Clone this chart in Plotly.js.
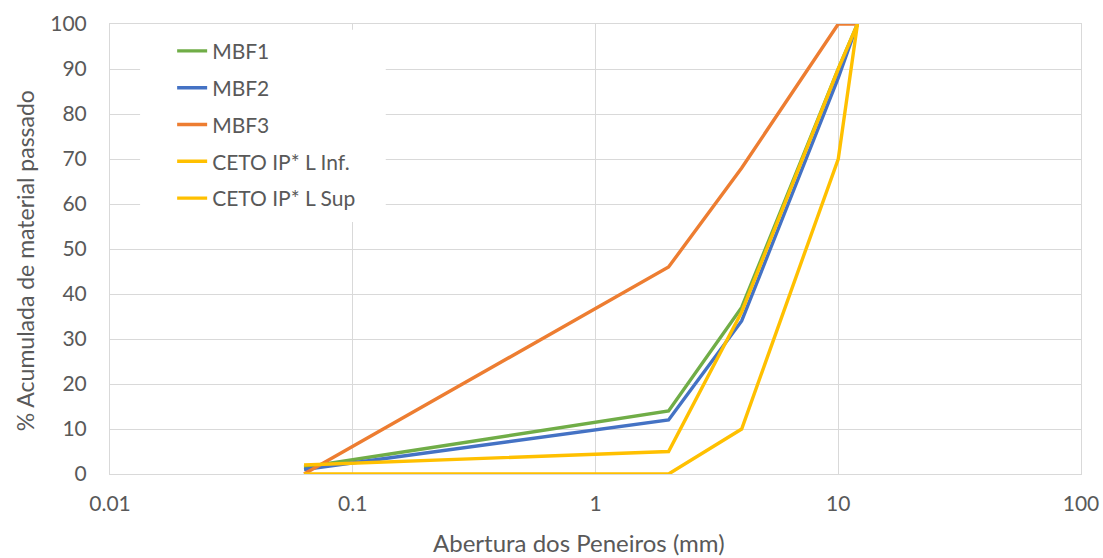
<!DOCTYPE html>
<html>
<head>
<meta charset="utf-8">
<script src="https://cdn.plot.ly/plotly-3.0.1.min.js"></script>
<style>html,body{margin:0;padding:0;background:#fff;}#chart{width:1103px;height:558px;}</style>
</head>
<body>
<div id="chart"></div>
<script>
const sieves = [0.063, 2, 4, 10, 12];
const mbf1 = [1.5, 14, 37, 90, 100];
const mbf2 = [1, 12, 34, 88, 100];
const mbf3 = [0, 46, 68, 100, 100];
const cetoInf = [0, 0, 10, 70, 100];
const cetoSup = [2, 5, 36, 90, 100];
const seriesNames = ['MBF1', 'MBF2', 'MBF3', 'CETO IP* L Inf.', 'CETO IP* L Sup'];
const seriesColors = ['#70AD47', '#4472C4', '#ED7D31', '#FFC000', '#FFC000'];
const seriesValues = [mbf1, mbf2, mbf3, cetoInf, cetoSup];
const xTickVals = [0.01, 0.1, 1, 10, 100];
const xTickText = ['0.01', '0.1', '1', '10', '100'];
const xTitle = 'Abertura dos Peneiros (mm)';
const yTitle = '% Acumulada de material passado';

const FONT = 'Lato, "Open Sans", sans-serif';
const GREY = '#595959';

const traces = seriesValues.map((v, i) => ({
  x: sieves, y: v, type: 'scatter', mode: 'lines', name: seriesNames[i],
  legendgroup: 'g' + i,
  line: {color: seriesColors[i], width: 3.4}
}));

const layout = {
  width: 1103, height: 558,
  margin: {l: 110, r: 22, t: 24, b: 84},
  paper_bgcolor: '#fff', plot_bgcolor: '#fff',
  font: {family: FONT, color: GREY, size: 21},
  showlegend: true,
  legend: {x: 0.064, y: 0.985, xanchor: 'left', yanchor: 'top', bgcolor: '#fff',
    font: {family: FONT, size: 21, color: GREY}, tracegroupgap: 6.5, traceorder: 'grouped'},
  xaxis: {type: 'log', range: [-2, 2], tickvals: xTickVals, ticktext: xTickText,
    showgrid: true, gridcolor: '#D9D9D9', gridwidth: 1,
    showline: true, linecolor: '#D9D9D9', linewidth: 1, mirror: true,
    ticks: '', ticklabelstandoff: 11, zeroline: false,
    tickfont: {family: FONT, size: 21, color: GREY}},
  yaxis: {range: [0, 100], dtick: 10, tick0: 0,
    showgrid: true, gridcolor: '#D9D9D9', gridwidth: 1,
    showline: true, linecolor: '#D9D9D9', linewidth: 1, mirror: true,
    ticks: '', ticklabelstandoff: 18, zeroline: false,
    tickfont: {family: FONT, size: 21, color: GREY}},
  shapes: [
    {type: 'rect', xref: 'x domain', yref: 'y domain', x0: 0.031, x1: 0.284, y0: 0.56, y1: 0.987,
     fillcolor: '#fff', line: {width: 0}, layer: 'above'}
  ],
  annotations: [
    {text: xTitle, xref: 'paper', yref: 'paper', x: 0.483, y: -0.152, showarrow: false,
     xanchor: 'center', yanchor: 'middle', font: {family: FONT, size: 24, color: GREY}},
    {text: yTitle, xref: 'paper', yref: 'paper', x: -0.0875, y: 0.473, showarrow: false,
     textangle: -90, xanchor: 'center', yanchor: 'middle', font: {family: FONT, size: 23, color: GREY}}
  ]
};

Plotly.newPlot('chart', traces, layout, {displayModeBar: false, staticPlot: true});
</script>
</body>
</html>
